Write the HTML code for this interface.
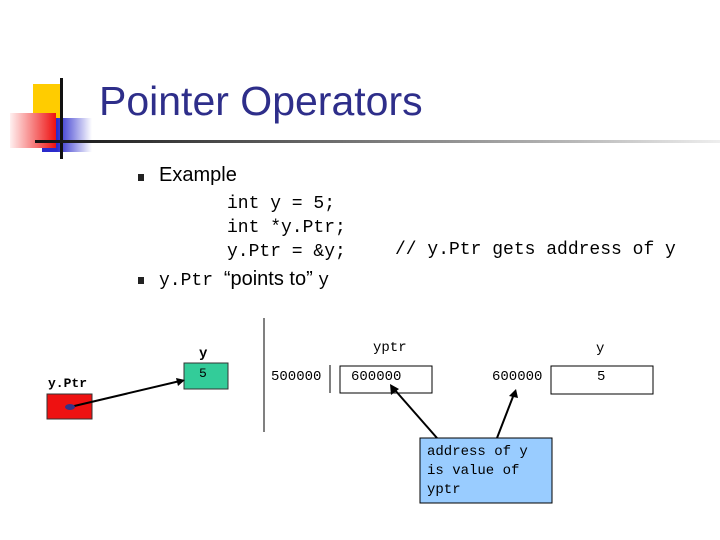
<!DOCTYPE html>
<html><head><style>
body{margin:0;width:720px;height:540px;background:#fff;position:relative;overflow:hidden;font-family:"Liberation Sans",sans-serif}
.a{position:absolute;white-space:pre}
.m{font-family:"Liberation Mono",monospace}
</style></head><body>
<div class="a" style="left:33px;top:84px;width:28px;height:34px;background:#ffcc00"></div>
<div class="a" style="left:42px;top:118px;width:50px;height:34px;background:linear-gradient(to right,#2a2acc 30%,#fff)"></div>
<div class="a" style="left:10px;top:113px;width:46px;height:35px;background:linear-gradient(to left,#ee1111,#fff0f0)"></div>
<div class="a" style="left:60px;top:78px;width:3px;height:81px;background:#111"></div>
<div class="a" style="left:35px;top:140px;width:685px;height:3px;background:linear-gradient(to right,#111,#bbb 80%,#eee)"></div>
<div class="a" style="left:99px;top:78px;font-size:41px;color:#2e2e8a">Pointer Operators</div>
<div class="a" style="left:138px;top:174px;width:6px;height:7px;background:#222"></div>
<div class="a" style="left:138px;top:277px;width:6px;height:7px;background:#222"></div>
<div class="a" style="left:159px;top:164px;font-size:20px">Example</div>
<div class="a m" style="left:227px;top:192px;font-size:18px;line-height:24px">int y = 5;
int *y.Ptr;
y.Ptr = &amp;y;</div>
<div class="a m" style="left:395px;top:240px;font-size:18px">// y.Ptr gets address of y</div>
<div class="a" style="left:159px;top:268px;font-size:20px"><span class="m" style="font-size:18px">y.Ptr </span>“points to” <span class="m" style="font-size:18px">y</span></div>
<svg class="a" style="left:0;top:0" width="720" height="540">
<rect x="47" y="394" width="45" height="25" fill="#ee1111" stroke="#333"/>
<rect x="184" y="363" width="44" height="26" fill="#33cc99" stroke="#333"/>
<line x1="70" y1="407" x2="180" y2="381" stroke="#000" stroke-width="2"/>
<polygon points="185,380 176,378 178,386" fill="#000"/>
<ellipse cx="70" cy="407" rx="5" ry="3" fill="#333388"/>
<line x1="264" y1="318" x2="264" y2="432" stroke="#000"/>
<line x1="330" y1="365" x2="330" y2="393" stroke="#000"/>
<rect x="340" y="366" width="92" height="27" fill="none" stroke="#000"/>
<rect x="551" y="366" width="102" height="28" fill="none" stroke="#000"/>
<rect x="420" y="438" width="132" height="65" fill="#99ccff" stroke="#000"/>
<line x1="437" y1="438" x2="394" y2="389" stroke="#000" stroke-width="2"/>
<polygon points="390,384 391,395 399,389" fill="#000"/>
<line x1="497" y1="438" x2="514" y2="394" stroke="#000" stroke-width="2"/>
<polygon points="516,389 509,396 518,398" fill="#000"/>
</svg>
<div class="a m" style="left:48px;top:376px;font-size:13px;font-weight:bold">y.Ptr</div>
<div class="a m" style="left:199px;top:346px;font-size:14px;font-weight:bold">y</div>
<div class="a m" style="left:199px;top:366px;font-size:13px">5</div>
<div class="a m" style="left:271px;top:369px;font-size:14px">500000</div>
<div class="a m" style="left:351px;top:369px;font-size:14px">600000</div>
<div class="a m" style="left:492px;top:369px;font-size:14px">600000</div>
<div class="a m" style="left:597px;top:369px;font-size:14px">5</div>
<div class="a m" style="left:373px;top:340px;font-size:14px">yptr</div>
<div class="a m" style="left:596px;top:341px;font-size:14px">y</div>
<div class="a m" style="left:427px;top:443px;font-size:14px;line-height:19px">address of y
is value of
yptr</div>
</body></html>
